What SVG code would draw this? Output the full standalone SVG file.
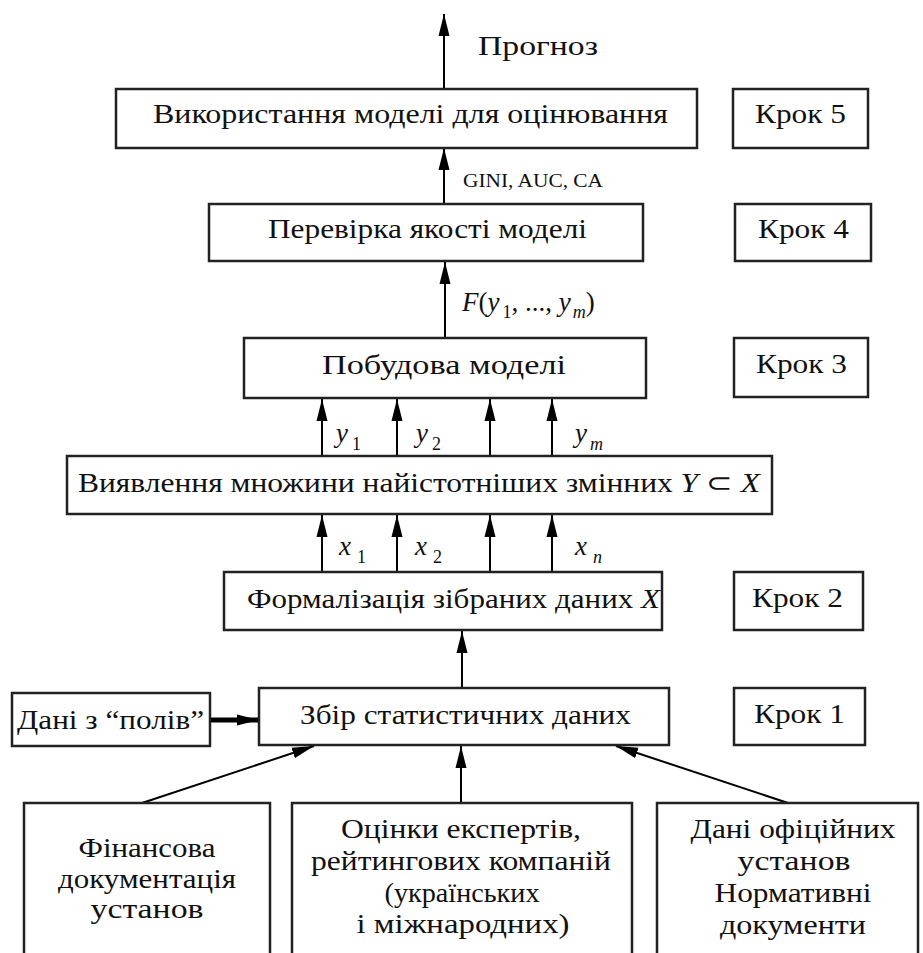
<svg xmlns="http://www.w3.org/2000/svg" width="923" height="953" viewBox="0 0 923 953">
  <defs>
    <marker id="ah" markerUnits="userSpaceOnUse" markerWidth="24" markerHeight="12" refX="22" refY="6" orient="auto">
      <path d="M0,0.5 L22,6 L0,11.5 z" fill="#000"/>
    </marker>
    <style>
      .box { fill: #fff; stroke: #222; stroke-width: 2.5; }
      .t { font-family: "Liberation Serif", "Times New Roman", serif; font-size: 27px; fill: #111; }
      .c { text-anchor: middle; }
      .i { font-style: italic; }
      .sub { font-size: 18px; font-style: normal; }
      .small { font-family: "Liberation Serif", serif; font-size: 18px; fill: #111; }
      .conn line { stroke: #000; stroke-width: 2; marker-end: url(#ah); }
    </style>
  </defs>
  <rect width="923" height="953" fill="#fff"/>

  <!-- connectors -->
  <g id="connectors" class="conn">
    <line x1="444" y1="89" x2="444" y2="14"/>
    <line x1="444" y1="204" x2="444" y2="148"/>
    <line x1="445" y1="338" x2="445" y2="262"/>
    <line x1="322" y1="456" x2="322" y2="399"/>
    <line x1="397" y1="456" x2="397" y2="399"/>
    <line x1="490" y1="456" x2="490" y2="399"/>
    <line x1="552" y1="456" x2="552" y2="399"/>
    <line x1="322" y1="572" x2="322" y2="515"/>
    <line x1="397" y1="572" x2="397" y2="515"/>
    <line x1="490" y1="572" x2="490" y2="515"/>
    <line x1="552" y1="572" x2="552" y2="515"/>
    <line x1="462" y1="688" x2="462" y2="631"/>
    <line x1="210" y1="720" x2="259" y2="720" style="stroke-width:5"/>
    <line x1="142" y1="803" x2="314" y2="746"/>
    <line x1="461" y1="803" x2="461" y2="746"/>
    <line x1="788" y1="803" x2="616" y2="746"/>
  </g>

  <!-- connector labels -->
  <g id="labels">
    <text class="t" x="478" y="55" textLength="120" lengthAdjust="spacingAndGlyphs">Прогноз</text>
    <text class="small" x="463" y="187" textLength="140" lengthAdjust="spacingAndGlyphs">GINI, AUC, CA</text>
    <text class="t" x="462" y="311"><tspan class="i">F</tspan>(<tspan class="i">y</tspan><tspan class="sub" dx="3" dy="7">1</tspan><tspan dy="-7">, ..., </tspan><tspan class="i">y</tspan><tspan class="sub i" dx="2" dy="7" style="font-style:italic">m</tspan><tspan dy="-7">)</tspan></text>
    <text class="t i" x="336" y="442">y<tspan class="sub" dx="4" dy="8">1</tspan></text>
    <text class="t i" x="416" y="442">y<tspan class="sub" dx="4" dy="8">2</tspan></text>
    <text class="t i" x="575" y="442">y<tspan class="sub" dx="3" dy="8" style="font-style:italic">m</tspan></text>
    <text class="t i" x="339" y="555">x<tspan class="sub" dx="6" dy="8">1</tspan></text>
    <text class="t i" x="415" y="555">x<tspan class="sub" dx="6" dy="8">2</tspan></text>
    <text class="t i" x="575" y="555">x<tspan class="sub" dx="6" dy="8" style="font-style:italic">n</tspan></text>
  </g>

  <!-- step 5 -->
  <g id="use-model">
    <rect class="box" x="116" y="89" width="581" height="59"/>
    <text class="t" x="153" y="123" font-size="28" textLength="515" lengthAdjust="spacingAndGlyphs">Використання моделі для оцінювання</text>
  </g>
  <g id="step5">
    <rect class="box" x="733" y="89" width="135" height="59"/>
    <text class="t" x="755" y="123" font-size="28" textLength="91" lengthAdjust="spacingAndGlyphs">Крок 5</text>
  </g>

  <!-- step 4 -->
  <g id="quality-check">
    <rect class="box" x="209" y="204" width="434" height="57"/>
    <text class="t" x="268" y="238" font-size="28" textLength="319" lengthAdjust="spacingAndGlyphs">Перевірка якості моделі</text>
  </g>
  <g id="step4">
    <rect class="box" x="735" y="204" width="136" height="57"/>
    <text class="t" x="758" y="238" font-size="28" textLength="91" lengthAdjust="spacingAndGlyphs">Крок 4</text>
  </g>

  <!-- step 3 -->
  <g id="build-model">
    <rect class="box" x="244" y="338" width="402" height="60"/>
    <text class="t" x="322" y="374" textLength="244" lengthAdjust="spacingAndGlyphs">Побудова моделі</text>
  </g>
  <g id="step3">
    <rect class="box" x="734" y="338" width="134" height="59"/>
    <text class="t" x="756" y="373" font-size="28" textLength="91" lengthAdjust="spacingAndGlyphs">Крок 3</text>
  </g>

  <!-- variable selection -->
  <g id="select-vars">
    <rect class="box" x="67" y="456" width="705" height="58"/>
    <text class="t" x="78" y="492" textLength="682" lengthAdjust="spacingAndGlyphs">Виявлення множини найістотніших змінних <tspan class="i">Y</tspan> ⊂ <tspan class="i">X</tspan></text>
  </g>

  <!-- step 2 -->
  <g id="formalize">
    <rect class="box" x="224" y="572" width="438" height="58"/>
    <text class="t" x="247" y="608" textLength="413" lengthAdjust="spacingAndGlyphs">Формалізація зібраних даних <tspan class="i">X</tspan></text>
  </g>
  <g id="step2">
    <rect class="box" x="734" y="572" width="129" height="58"/>
    <text class="t" x="752" y="607" font-size="28" textLength="91" lengthAdjust="spacingAndGlyphs">Крок 2</text>
  </g>

  <!-- step 1 -->
  <g id="collect">
    <rect class="box" x="259" y="688" width="410" height="57"/>
    <text class="t" x="300" y="724" textLength="331" lengthAdjust="spacingAndGlyphs">Збір статистичних даних</text>
  </g>
  <g id="step1">
    <rect class="box" x="734" y="688" width="131" height="57"/>
    <text class="t" x="754" y="723" font-size="28" textLength="91" lengthAdjust="spacingAndGlyphs">Крок 1</text>
  </g>
  <g id="field-data">
    <rect class="box" x="12" y="693" width="198" height="53"/>
    <text class="t" x="17" y="729" textLength="187" lengthAdjust="spacingAndGlyphs">Дані з “полів”</text>
  </g>

  <!-- sources -->
  <g id="financial-docs">
    <path class="box" d="M24,960 V803 H270 V960"/>
    <text class="t c" x="147" y="857" textLength="137" lengthAdjust="spacingAndGlyphs">Фінансова</text>
    <text class="t c" x="147" y="888" textLength="178" lengthAdjust="spacingAndGlyphs">документація</text>
    <text class="t c" x="147" y="918" textLength="113" lengthAdjust="spacingAndGlyphs">установ</text>
  </g>
  <g id="expert-ratings">
    <path class="box" d="M292,960 V803 H632 V960"/>
    <text class="t c" x="461" y="838" textLength="240" lengthAdjust="spacingAndGlyphs">Оцінки експертів,</text>
    <text class="t c" x="461" y="870" textLength="300" lengthAdjust="spacingAndGlyphs">рейтингових компаній</text>
    <text class="t c" x="462" y="902" textLength="155" lengthAdjust="spacingAndGlyphs">(українських</text>
    <text class="t c" x="463" y="933" textLength="213" lengthAdjust="spacingAndGlyphs">і міжнародних)</text>
  </g>
  <g id="official-data">
    <path class="box" d="M657,960 V803 H918 V960"/>
    <text class="t c" x="793" y="838" textLength="205" lengthAdjust="spacingAndGlyphs">Дані офіційних</text>
    <text class="t c" x="794" y="870" textLength="113" lengthAdjust="spacingAndGlyphs">установ</text>
    <text class="t c" x="793" y="902" textLength="157" lengthAdjust="spacingAndGlyphs">Нормативні</text>
    <text class="t c" x="793" y="934" textLength="146" lengthAdjust="spacingAndGlyphs">документи</text>
  </g>
</svg>
